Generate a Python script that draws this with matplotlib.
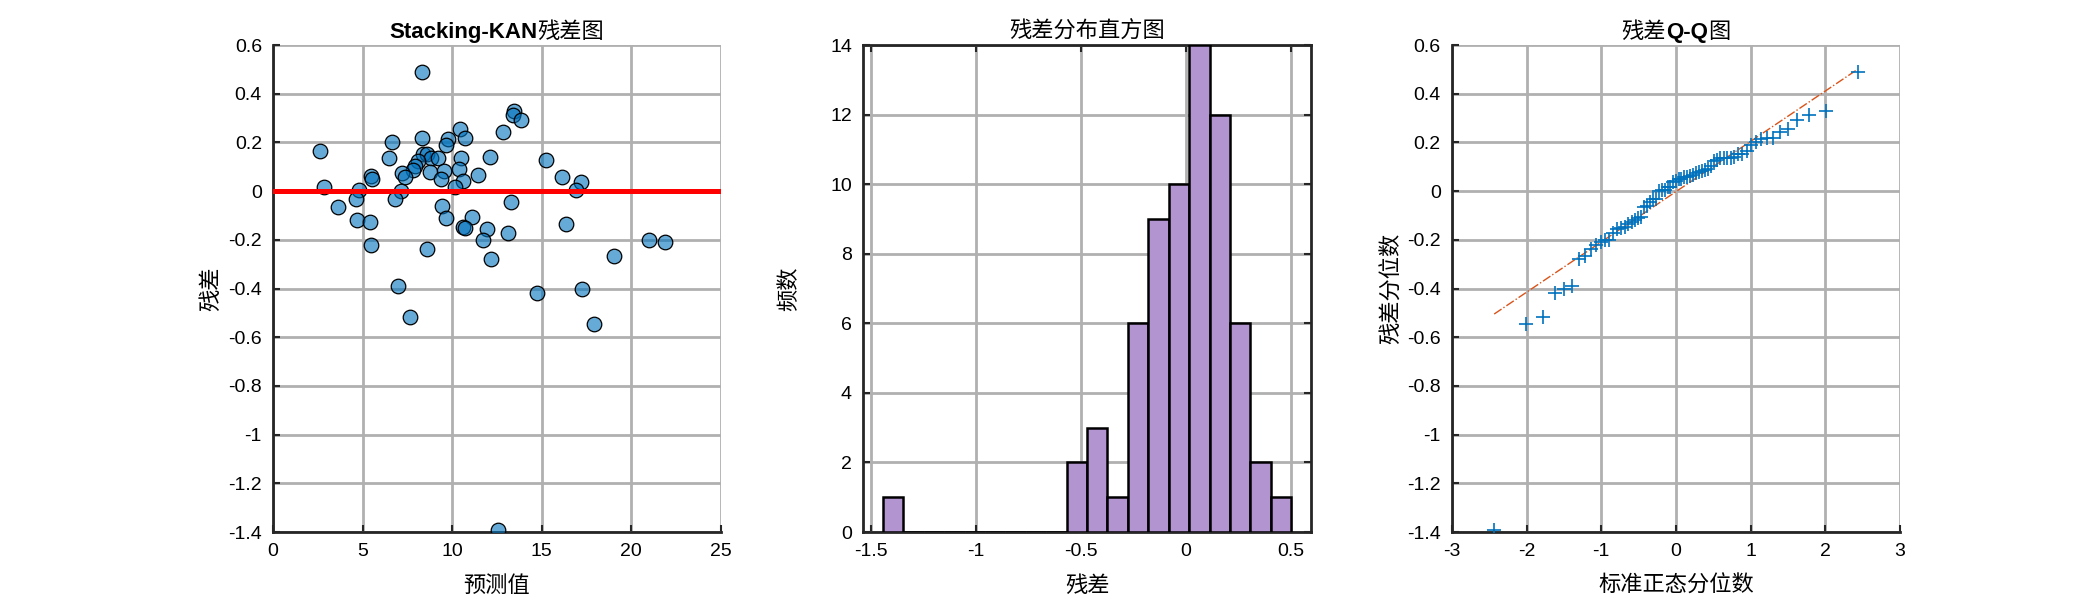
import numpy as np
import matplotlib
matplotlib.use("Agg")
import matplotlib.pyplot as plt
from matplotlib.ticker import FuncFormatter
from matplotlib.offsetbox import TextArea, HPacker, AnchoredOffsetbox
from statistics import NormalDist

# predicted values and residuals
pred = [8.32, 13.44, 13.37, 13.84, 10.43, 12.83, 9.78, 10.74, 8.34, 6.63,
        9.68, 2.63, 8.36, 8.57, 6.50, 8.83, 9.22, 10.50, 12.12, 15.21,
        8.08, 7.91, 7.82, 10.37, 9.55, 8.75, 7.22, 7.36, 5.46, 5.51,
        11.42, 16.11, 17.17, 9.40, 10.61, 10.15, 2.85, 4.80, 7.17, 16.90,
        4.66, 6.80, 13.31, 3.61, 9.46, 9.68, 11.10, 4.69, 5.40, 10.61,
        10.69, 16.33, 11.96, 13.13, 11.73, 20.97, 21.90, 5.49, 8.57, 12.16,
        19.03, 6.98, 7.64, 14.71, 17.23, 17.90, 12.57]
resid = [0.49, 0.33, 0.312, 0.292, 0.255, 0.242, 0.216, 0.217, 0.22, 0.20,
         0.19, 0.165, 0.153, 0.152, 0.137, 0.137, 0.137, 0.137, 0.142, 0.127,
         0.124, 0.102, 0.086, 0.091, 0.083, 0.079, 0.076, 0.059, 0.061, 0.05,
         0.066, 0.059, 0.038, 0.048, 0.041, 0.016, 0.018, 0.004, -0.001, 0.003,
         -0.031, -0.031, -0.046, -0.064, -0.061, -0.111, -0.106, -0.12, -0.127, -0.146,
         -0.153, -0.137, -0.157, -0.171, -0.202, -0.202, -0.208, -0.221, -0.239, -0.277,
         -0.266, -0.39, -0.516, -0.42, -0.403, -0.547, -1.39]

# histogram (20 bins)
hist_start = -1.443
hist_binw = 0.0973
hist_counts = [1, 0, 0, 0, 0, 0, 0, 0, 0, 2, 3, 1, 6, 9, 10, 14, 12, 6, 2, 1]

plt.rcParams["font.family"] = ["Liberation Sans", "Noto Sans CJK SC", "DejaVu Sans"]
plt.rcParams["axes.unicode_minus"] = False
CJK = ["Noto Sans CJK SC", "DejaVu Sans"]

BLUE = (0.0, 0.447, 0.741)
GRID = "#b0b0b0"
SPINE = "#262626"
LBL = 16


def fmt(v, pos):
    s = f"{v:.1f}"
    if s.endswith(".0"):
        s = s[:-2]
    if s == "-0":
        s = "0"
    return s


def style_axes(ax, box=False):
    ax.set_axisbelow(True)
    ax.grid(True, color=GRID, linewidth=2.0)
    for side in ["left", "bottom", "top", "right"]:
        ax.spines[side].set_color(SPINE)
        ax.spines[side].set_linewidth(2.0)
    if not box:
        ax.spines["top"].set_visible(False)
        ax.spines["right"].set_visible(False)
    ax.tick_params(direction="in", length=5, width=1.5, labelsize=14, pad=8,
                   top=box, right=box, color=SPINE)


def mixed_title(ax, parts):
    boxes = []
    for txt, bold in parts:
        fam = ["Liberation Sans"] if bold else CJK
        boxes.append(TextArea(txt, textprops=dict(fontsize=LBL, fontweight="bold" if bold else "normal",
                                                   family=fam, color="black")))
    pack = HPacker(children=boxes, pad=0, sep=0, align="baseline")
    ab = AnchoredOffsetbox(loc="lower center", child=pack, pad=0, frameon=False,
                           bbox_to_anchor=(0.5, 1.005), bbox_transform=ax.transAxes, borderpad=0)
    ax.add_artist(ab)


fig = plt.figure(figsize=(21, 6), dpi=100)
w, h, b = 0.2133, 0.8117, 0.1133
ax1 = fig.add_axes([0.130, b, w, h])
ax2 = fig.add_axes([0.411, b, w, h])
ax3 = fig.add_axes([0.6914, b, w, h])

# panel 1: residual scatter
ax1.scatter(pred, resid, s=110, facecolor=(*BLUE, 0.6), edgecolor="black", linewidth=0.9, zorder=3)
ax1.axhline(0, color="red", linewidth=3.6, zorder=4)
ax1.set_xlim(0, 25)
ax1.set_ylim(-1.4, 0.6)
ax1.set_xticks([0, 5, 10, 15, 20, 25])
ax1.set_yticks(np.arange(-1.4, 0.61, 0.2))
ax1.yaxis.set_major_formatter(FuncFormatter(fmt))
style_axes(ax1)
mixed_title(ax1, [("Stacking-KAN", True), ("残差图", False)])
ax1.set_xlabel("预测值", family=CJK, fontsize=LBL)
ax1.set_ylabel("残差", family=CJK, fontsize=LBL)
ax1.xaxis.set_label_coords(0.5, -0.086)
ax1.yaxis.set_label_coords(-0.114, 0.5)

# panel 2: histogram
edges = hist_start + hist_binw * np.arange(len(hist_counts) + 1)
ax2.bar(edges[:-1], hist_counts, width=hist_binw, align="edge",
        color="#b294d1", edgecolor="black", linewidth=1.8, zorder=3)
ax2.set_xlim(-1.537, 0.597)
ax2.set_ylim(0, 14)
ax2.set_xticks([-1.5, -1, -0.5, 0, 0.5])
ax2.set_yticks(range(0, 15, 2))
ax2.xaxis.set_major_formatter(FuncFormatter(fmt))
style_axes(ax2, box=True)
ax2.set_title("残差分布直方图", family=CJK, fontsize=LBL, pad=5)
ax2.set_xlabel("残差", family=CJK, fontsize=LBL)
ax2.set_ylabel("频数", family=CJK, fontsize=LBL)
ax2.xaxis.set_label_coords(0.5, -0.086)
ax2.yaxis.set_label_coords(-0.14, 0.5)

# panel 3: Q-Q plot
ys = np.sort(resid)
n = len(ys)
qx = np.array([NormalDist().inv_cdf((i - 0.5) / n) for i in range(1, n + 1)])
q1, q3 = np.percentile(ys, [25, 75])
z1, z3 = NormalDist().inv_cdf(0.25), NormalDist().inv_cdf(0.75)
slope = (q3 - q1) / (z3 - z1)
icpt = q1 - slope * z1
lx = np.array([qx[0], qx[-1]])
ax3.plot(lx, icpt + slope * lx, color=(0.85, 0.325, 0.098), linestyle="-.", linewidth=1.0, zorder=3)
ax3.plot(qx, ys, linestyle="none", marker="+", markersize=10, markeredgewidth=1.2, color=BLUE, zorder=4)
ax3.set_xlim(-3, 3)
ax3.set_ylim(-1.4, 0.6)
ax3.set_xticks(range(-3, 4))
ax3.set_yticks(np.arange(-1.4, 0.61, 0.2))
ax3.yaxis.set_major_formatter(FuncFormatter(fmt))
style_axes(ax3)
mixed_title(ax3, [("残差", False), ("Q-Q", True), ("图", False)])
ax3.set_xlabel("标准正态分位数", family=CJK, fontsize=LBL)
ax3.set_ylabel("残差分位数", family=CJK, fontsize=LBL)
ax3.xaxis.set_label_coords(0.5, -0.086)
ax3.yaxis.set_label_coords(-0.109, 0.5)

fig.savefig("out.png", dpi=100, facecolor="white")
